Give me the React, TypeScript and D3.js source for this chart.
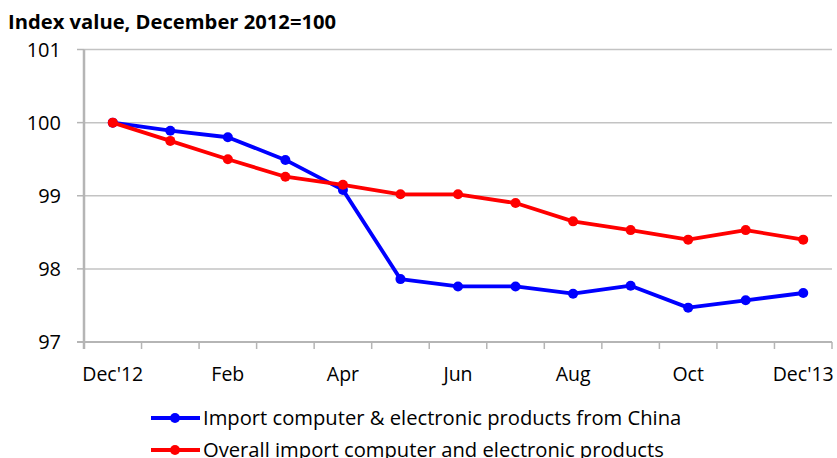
import React from "react";
import * as d3 from "d3";

const categories = ["Dec'12", "Jan", "Feb", "Mar", "Apr", "May", "Jun", "Jul", "Aug", "Sep", "Oct", "Nov", "Dec'13"];
const tickLabels = ["Dec'12", "Feb", "Apr", "Jun", "Aug", "Oct", "Dec'13"];
const chinaValues = [100.0, 99.89, 99.8, 99.49, 99.08, 97.86, 97.76, 97.76, 97.66, 97.77, 97.47, 97.57, 97.67];
const overallValues = [100.0, 99.75, 99.5, 99.26, 99.15, 99.02, 99.02, 98.9, 98.65, 98.53, 98.4, 98.53, 98.4];
const yTicks = [97, 98, 99, 100, 101];
const seriesNames = [
  "Import computer & electronic products from China",
  "Overall import computer and electronic products",
];
const title = "Index value, December 2012=100";

const W = 837;
const H = 458;
const left = 84;
const right = 832;
const top = 49.5;
const bottom = 342;
const FONT = "'Open Sans', Lato, sans-serif";

export default function App() {
  const x = d3.scaleBand<string>().domain(categories).range([left, right]).padding(0);
  const y = d3.scaleLinear().domain([97, 101]).range([bottom, top]);
  const cx = (c: string) => (x(c) as number) + x.bandwidth() / 2;
  const line = d3
    .line<number>()
    .x((_, i) => cx(categories[i]))
    .y((d) => y(d));

  const series = [
    { name: seriesNames[0], values: chinaValues, color: "#0000FF" },
    { name: seriesNames[1], values: overallValues, color: "#FF0000" },
  ];
  const boundaries = d3.range(categories.length + 1).map((i) => left + i * x.bandwidth());

  return (
    <svg
      width={W}
      height={H}
      style={{ position: "absolute", left: 0, top: 0, background: "#fff" }}
      fontFamily={FONT}
    >
      <text x={8} y={29} fontSize={20.2} fontWeight="bold" fill="#000">
        {title}
      </text>
      {yTicks.map((t) => (
        <g key={t}>
          {t !== 97 && (
            <line x1={left} x2={right} y1={y(t)} y2={y(t)} stroke="#c3c3c3" strokeWidth={1.5} />
          )}
          <line x1={77} x2={left} y1={y(t)} y2={y(t)} stroke="#b5b5b5" strokeWidth={1.5} />
          <text x={61} y={y(t) + 7.2} fontSize={20} textAnchor="end" fill="#000">
            {t}
          </text>
        </g>
      ))}
      <line x1={left} x2={left} y1={top} y2={bottom + 7} stroke="#b5b5b5" strokeWidth={2.5} />
      <line x1={77} x2={right} y1={bottom} y2={bottom} stroke="#b5b5b5" strokeWidth={2} />
      {boundaries.map((b, i) => (
        <line key={i} x1={b} x2={b} y1={bottom} y2={bottom + 7} stroke="#b5b5b5" strokeWidth={1.5} />
      ))}
      {tickLabels.map((t) => (
        <text key={t} x={cx(t)} y={381} fontSize={19.5} textAnchor="middle" fill="#000">
          {t}
        </text>
      ))}
      {series.map((s) => (
        <g key={s.name}>
          <path d={line(s.values) as string} fill="none" stroke={s.color} strokeWidth={3.8} strokeLinejoin="round" />
          {s.values.map((v, i) => (
            <circle key={i} cx={cx(categories[i])} cy={y(v)} r={5} fill={s.color} />
          ))}
        </g>
      ))}
      {series.map((s, i) => {
        const ly = 418 + i * 32;
        return (
          <g key={s.name}>
            <line x1={151} x2={200} y1={ly} y2={ly} stroke={s.color} strokeWidth={3.8} />
            <circle cx={175} cy={ly} r={5} fill={s.color} />
            <text x={203} y={ly + 7} fontSize={20.2} fill="#000">
              {s.name}
            </text>
          </g>
        );
      })}
    </svg>
  );
}
